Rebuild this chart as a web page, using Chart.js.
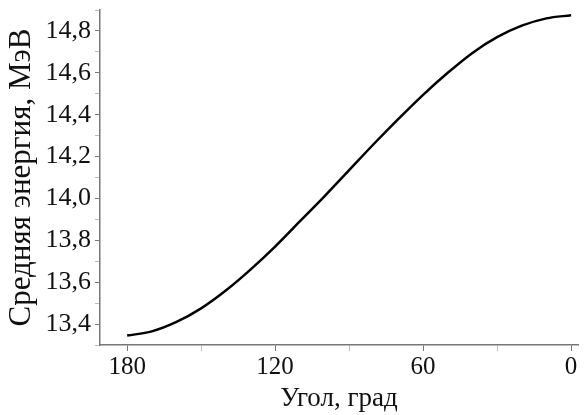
<html>
<script src="https://cdn.jsdelivr.net/npm/chart.js@4.4.0/dist/chart.umd.min.js"></script>
<style>
  body { margin: 0; background: #fff; }
  canvas { display: block; }
</style>
<body>
  <canvas id="energyChart" width="588" height="415"></canvas>
</body>
<script>
  // angle (deg) and mean energy (MeV)
  var angles = [180, 170, 160, 150, 140, 130, 120, 110, 100, 90, 80, 70, 60, 50, 40, 30, 20, 10, 0];
  var energies = [13.345, 13.365, 13.41, 13.475, 13.56, 13.66, 13.77, 13.89, 14.01, 14.135, 14.26, 14.38, 14.495, 14.60, 14.695, 14.77, 14.825, 14.86, 14.875];

  var xMajor = [180, 120, 60, 0];
  var yMajor = [13.4, 13.6, 13.8, 14.0, 14.2, 14.4, 14.6, 14.8];

  var xTitle = "Угол, град";
  var yTitle = "Средняя энергия, МэВ";

  var points = angles.map(function (a, i) { return { x: a, y: energies[i] }; });

  var serif = "'Liberation Serif', 'Times New Roman', serif";

  function isMajorX(v) { return xMajor.indexOf(Math.round(v)) >= 0; }
  function isMajorY(v) {
    return yMajor.some(function (m) { return Math.abs(m - v) < 1e-6; });
  }

  var ctx = document.getElementById('energyChart');
  new Chart(ctx, {
    type: "scatter",
    data: {
      datasets: [
        {
          data: points,
          showLine: true,
          borderColor: "#000",
          borderWidth: 2.5,
          pointRadius: 0,
          fill: false,
          cubicInterpolationMode: "monotone"
        }
      ]
    },
    options: {
      responsive: false,
      animation: false,
      layout: { padding: { top: 10, right: 10, left: 0, bottom: 0 } },
      plugins: { legend: { display: false }, tooltip: { enabled: false } },
      scales: {
        x: {
          type: "linear",
          reverse: true,
          min: -2.8,
          max: 191,
          afterFit: function (scale) {
            scale.height = 70;
            scale.paddingLeft = 0;
            scale.paddingRight = 0;
          },
          border: { display: true, color: "#777", width: 1.5 },
          grid: {
            drawOnChartArea: false,
            drawTicks: true,
            tickLength: 6,
            tickColor: function (c) { return isMajorX(c.tick.value) ? "#777" : "#bbb"; }
          },
          ticks: {
            stepSize: 30,
            includeBounds: false,
            autoSkip: false,
            maxRotation: 0,
            padding: 1,
            color: "#111",
            font: { family: serif, size: 25 },
            callback: function (v) { return isMajorX(v) ? String(Math.round(v)) : ""; }
          },
          title: {
            display: true,
            text: xTitle,
            color: "#111",
            font: { family: serif, size: 27 },
            padding: { top: 0, bottom: 0 }
          }
        },
        y: {
          type: "linear",
          min: 13.3,
          max: 14.9,
          afterFit: function (scale) {
            scale.width = 100;
            scale.paddingTop = 0;
            scale.paddingBottom = 0;
          },
          border: { display: true, color: "#777", width: 1.5 },
          grid: {
            drawOnChartArea: false,
            drawTicks: true,
            tickLength: 5,
            tickColor: function (c) { return isMajorY(c.tick.value) ? "#777" : "#bbb"; }
          },
          ticks: {
            stepSize: 0.1,
            includeBounds: false,
            autoSkip: false,
            padding: 4,
            color: "#111",
            font: { family: serif, size: 26 },
            callback: function (v) { return isMajorY(v) ? v.toFixed(1).replace('.', ',') : ""; }
          },
          title: {
            display: true,
            text: yTitle,
            color: "#111",
            font: { family: serif, size: 31 },
            padding: { top: 3, bottom: 0 }
          }
        }
      }
    }
  });
</script>
</html>
